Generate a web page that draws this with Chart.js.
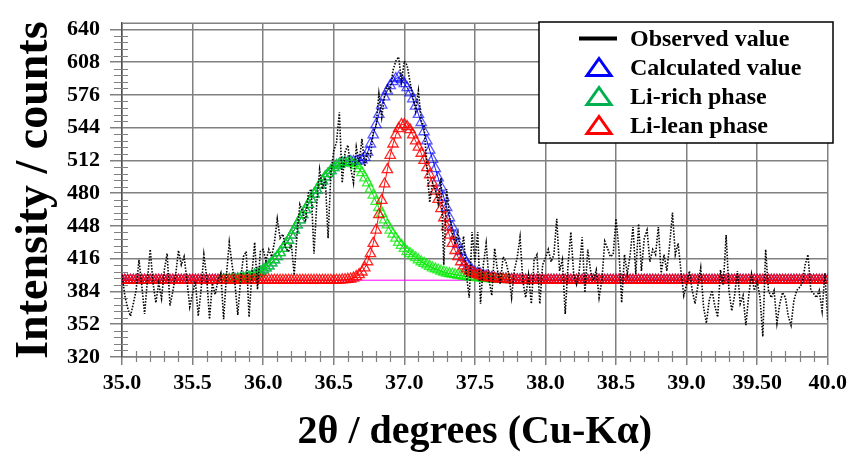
<!DOCTYPE html>
<html>
<head>
<meta charset="utf-8">
<script src="https://cdn.jsdelivr.net/npm/chart.js@4.4.0/dist/chart.umd.min.js"></script>
<style>
  html,body{margin:0;padding:0;background:#fff;}
  #wrap{width:852px;height:456px;}
</style>
</head>
<body>
<div id="wrap"><canvas id="c" width="852" height="456"></canvas></div>
<script>
const SERIF = '"Liberation Serif","Times New Roman",serif';

// axis ticks
const xTickValues = [35.0,35.5,36.0,36.5,37.0,37.5,38.0,38.5,39.0,39.5,40.0];
const xTickLabels = ['35.0','35.5','36.0','36.5','37.0','37.5','38.0','38.5','39.0','39.50','40.0'];
const yTickValues = [320,352,384,416,448,480,512,544,576,608,640];
const xMinorStep = 0.1, yMinorStep = 6.4;

// scan: 2theta from 35.00 in 0.02 steps
const scanStart = 35.0, scanStep = 0.02;

// observed intensity (counts), 35.00 .. 40.00
const observed = [
  400,380,368,360,372,385,415,390,362,395, 425,392,373,392,377,405,421,370,384,400,
  424,410,418,395,369,382,394,360,385,420, 398,357,392,381,395,402,357,400,432,410,
  392,361,395,418,423,359,400,432,386,423,
  425,414,425,418,432,455,436,440,426,423, 430,400,440,469,462,452,480,484,421,470,
  503,484,495,436,500,521,530,559,490,520, 527,505,490,525,510,533,506,520,516,540,
  545,577,554,575,585,580,600,609,613,589,
  609,605,589,575,560,580,551,545,506,471, 490,484,470,495,410,484,458,442,430,442,
  420,438,400,378,442,413,442,372,410,431, 395,380,426,405,391,418,413,401,378,405,
  417,437,394,378,400,372,415,420,372,410,
  417,425,413,420,455,404,415,362,410,442, 401,391,405,437,383,425,404,395,405,378,
  395,433,426,418,420,455,426,373,420,401, 420,447,401,450,404,436,444,413,425,420,
  447,402,420,404,430,461,420,431,404,380,
  391,404,385,372,390,407,369,353,375,385, 370,359,405,390,439,385,365,380,404,372,
  380,351,380,401,385,394,378,340,425,385, 378,385,353,372,383,378,360,351,375,385,
  388,392,410,420,385,382,378,385,365,402, 355
];

// calculated profile, 35.00 .. 40.00
const calculated = [
  395,395,395,395,395,395,395,395,395,395, 395,395,395,395,395,395,395,395,395,395,
  395,395,395,395,395,395,395,395,395,395, 395,395,395,395,395,
  395.5,395.5,395.6,395.7,395.9,396,396.3,396.6,397,397.5,
  398,399,400,401.5,403,405,407,409,412,415,
  418,422,426,430,434,439,444,449,454,459,
  464,469,474,479,483,488,492,496,499,502,
  505,507,508.5,509.5,510,510.5,511,511,511,511.5,
  512.5,515,520,528,537,547,557,566,574,580,
  585,589,592,593,591,587,583,578,572,565,
  557,549,540,531,522,513,504,495,486,476,
  466,456,447,438,430,423,417,412,408,405,
  403,402,401,400,399,398.3,397.7,397.2,396.8,396.5,
  396.2,396,395.8,395.6,395.5,395.4,395.3,395.2,395.1,
  395,395,395,395,395,395,395,395,395,395, 395,395,395,395,395,395,395,395,395,395,
  395,395,395,395,395,395,395,395,395,395, 395,395,395,395,395,395,395,395,395,395,
  395,395,395,395,395,395,395,395,395,395, 395,395,395,395,395,395,395,395,395,395,
  395,395,395,395,395,395,395,395,395,395, 395,395,395,395,395,395,395,395,395,395,
  395,395,395,395,395,395,395,395,395,395, 395,395,395,395,395,395,395,395,395,395,
  395,395,395,395,395,395,395
];

// Li-lean phase profile, 35.00 .. 40.00
const liLean = [
  395,395,395,395,395,395,395,395,395,395, 395,395,395,395,395,395,395,395,395,395,
  395,395,395,395,395,395,395,395,395,395, 395,395,395,395,395,395,395,395,395,395,
  395,395,395,395,395,395,395,395,395,395, 395,395,395,395,395,395,395,395,395,395,
  395,395,395,395,395,395,395,395,395,395, 395,395,395,395,395,
  395,395,395,395.3,395.5,395.8,396.2,397,398.5,400.5,
  403,407,413,421,431,444,459,473,489,503,
  517,528,537,543,547,547,545,542,537,531,
  525,519,512,505,498,490,482,474,465,456,
  447,439,431,424,418,413,409,406,404,402.5,
  401.5,400.5,399.5,398.5,398,397.5,397,396.7,396.4,396.2,
  396,395.8,395.7,395.5,395.4,395.3,395.2,395.1,395,
  395,395,395,395,395,395,395,395,395,395, 395,395,395,395,395,395,395,395,395,395,
  395,395,395,395,395,395,395,395,395,395, 395,395,395,395,395,395,395,395,395,395,
  395,395,395,395,395,395,395,395,395,395, 395,395,395,395,395,395,395,395,395,395,
  395,395,395,395,395,395,395,395,395,395, 395,395,395,395,395,395,395,395,395,395,
  395,395,395,395,395,395,395,395,395,395, 395,395,395,395,395,395,395,395,395,395,
  395,395,395,395,395,395,395
];

// Li-rich phase profile, 35.70 .. 37.74
const richStart = 35.70;
const liRich = [
  395.5,395.5,395.6,395.7,395.9,396,396.3,396.6,397,397.5,
  398,399,400,401.5,403,405,407,409,412,415,
  418,422,426,430,434,439,444,449,454,459,
  464,469,474,479,483,488,492,496,499,502,
  505,507,508.5,509.5,510,510,510,509,507,504,
  500,495,490,484,478,472,466,460,454,449,
  444,440,436,432,429,426,423,421,419,417,
  415,413,411.5,410,408.5,407,406,405,404,403,
  402,401.5,401,400.5,400,399.5,399,398.5,398.2,398,
  397.7,397.5,397.2,397,396.8,396.6,396.4,396.2,396.1,396,
  395.9,395.8,395.7
];

// background level
const bgX = [35.0, 40.0];
const bgY = [395, 395];

const seriesNames = ['Observed value','Calculated value','Li-rich phase','Li-lean phase'];
const legendColors = ['#000000','#0000ff','#00b050','#ff0000'];

const pts = (ys, x0) => ys.map((y,i)=>({x: +(x0 + i*scanStep).toFixed(2), y}));

const tri = (color) => ({
  showLine:true, borderColor:color.line, borderWidth:1,
  pointStyle:'triangle', pointRadius:6, pointBorderWidth:1.3,
  pointBorderColor:color.pt, pointBackgroundColor:'rgba(0,0,0,0)'
});

const frameAndMinor = {
  id:'frameAndMinor',
  beforeDatasetsDraw(chart){
    const {ctx, chartArea:a, scales:{x,y}} = chart;
    ctx.save();
    ctx.strokeStyle = '#808080';
    ctx.lineWidth = 1.2;
    ctx.beginPath();
    for (let i=1;i<50;i++){
      if (i%5===0) continue;
      const px = Math.round(x.getPixelForValue(35 + i*xMinorStep)) + 0.5;
      ctx.moveTo(px, a.bottom-6); ctx.lineTo(px, a.bottom+5);
    }
    for (let i=1;i<50;i++){
      if (i%5===0) continue;
      const py = Math.round(y.getPixelForValue(320 + i*yMinorStep)) + 0.5;
      ctx.moveTo(a.left-8, py); ctx.lineTo(a.left+6, py);
    }
    ctx.stroke();
    ctx.lineWidth = 1.5;
    ctx.beginPath();
    ctx.moveTo(a.left, a.top); ctx.lineTo(a.right, a.top);
    ctx.stroke();
    ctx.restore();
  }
};

const legendBox = {
  id:'legendBox',
  afterDraw(chart){
    const ctx = chart.ctx;
    const L=539, T=22, R=833, B=143;
    ctx.save();
    ctx.fillStyle = '#fff';
    ctx.fillRect(L,T,R-L,B-T);
    ctx.strokeStyle = '#000'; ctx.lineWidth = 1.5;
    ctx.strokeRect(L,T,R-L,B-T);
    ctx.font = 'bold 24px ' + SERIF;
    ctx.textBaseline = 'middle';
    ctx.fillStyle = '#000';
    seriesNames.forEach((name,i)=>{
      const yy = 38.5 + i*29;
      if (i===0){
        ctx.lineWidth = 4; ctx.strokeStyle = legendColors[0];
        ctx.beginPath(); ctx.moveTo(579,yy); ctx.lineTo(617,yy); ctx.stroke();
      } else {
        ctx.lineWidth = 3; ctx.strokeStyle = legendColors[i];
        ctx.beginPath();
        ctx.moveTo(599, yy-9); ctx.lineTo(611, yy+8); ctx.lineTo(587, yy+8); ctx.closePath();
        ctx.stroke();
      }
      ctx.fillText(name, 630, yy+1);
    });
    ctx.restore();
  }
};

const tickFont = {family:SERIF, size:22, weight:'bold'};

new Chart(document.getElementById('c'), {
  type:'scatter',
  data:{ datasets:[
    { label:seriesNames[0], data:pts(observed, scanStart), showLine:true,
      borderColor:'#000', borderWidth:1.6, borderDash:[1.5,1.5], pointRadius:0, order:1 },
    { label:seriesNames[3], data:pts(liLean, scanStart), order:3,
      ...tri({line:'rgba(255,0,0,0.95)', pt:'rgba(255,0,0,0.85)'}) },
    { label:seriesNames[2], data:pts(liRich, richStart), order:4,
      ...tri({line:'rgba(0,200,0,0.95)', pt:'rgba(0,235,0,0.75)'}) },
    { label:seriesNames[1], data:pts(calculated, scanStart), order:5,
      ...tri({line:'rgba(0,0,255,0.95)', pt:'rgba(0,0,255,0.65)'}) },
    { label:'background', data:bgX.map((x,i)=>({x, y:bgY[i]})), showLine:true,
      borderColor:'#ff00ff', borderWidth:1, pointRadius:0, order:6 }
  ]},
  options:{
    responsive:false, animation:false,
    layout:{ padding:{top:18, right:20, left:0, bottom:0} },
    plugins:{ legend:{display:false}, tooltip:{enabled:false} },
    scales:{
      x:{ type:'linear', min:35, max:40,
        afterBuildTicks: s=>{ s.ticks = xTickValues.map(v=>({value:v})); },
        afterFit: s=>{ s.height = 99; },
        ticks:{ callback:v=>xTickLabels[xTickValues.indexOf(v)], color:'#000', font:tickFont,
          padding:5, maxRotation:0, autoSkip:false },
        grid:{ color:'#808080', lineWidth:1.5, tickLength:8, tickColor:'#808080' },
        border:{ color:'#808080', width:1.5 },
        title:{ display:true, text:'2θ / degrees (Cu-Kα)', color:'#000',
          font:{family:SERIF, size:40, weight:'bold', lineHeight:1}, padding:{top:0, bottom:3} }
      },
      y:{ type:'linear', min:320, max:646,
        afterBuildTicks: s=>{ s.ticks = yTickValues.map(v=>({value:v})); },
        afterFit: s=>{ s.width = 122; },
        ticks:{ color:'#000', font:tickFont, padding:10 },
        grid:{ color:'#808080', lineWidth:1.5, tickLength:12, tickColor:'#808080' },
        border:{ color:'#505050', width:1.5 },
        title:{ display:true, text:'Intensity / counts', color:'#000',
          font:{family:SERIF, size:46, weight:'bold', lineHeight:1}, padding:{top:12, bottom:0} }
      }
    }
  },
  plugins:[frameAndMinor, legendBox]
});
</script>
</body>
</html>
